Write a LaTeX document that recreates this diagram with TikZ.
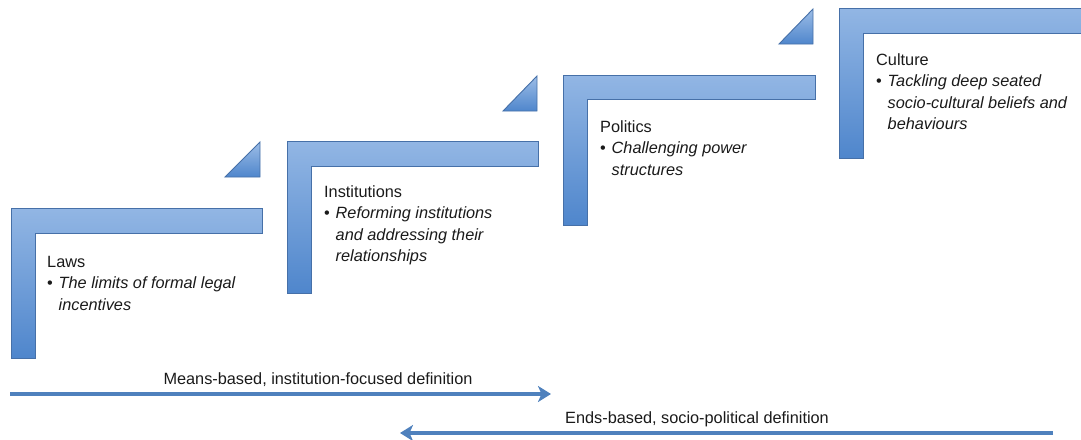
\documentclass[tikz,border=0pt]{standalone}
\usepackage{fontspec}
\setmainfont{Liberation Sans}
\usetikzlibrary{arrows.meta}
\definecolor{stepLight}{HTML}{92B6E4}
\definecolor{stepDark}{HTML}{4F86CC}
\definecolor{stepEdge}{HTML}{4670A8}
\definecolor{arrowBlue}{HTML}{4F81BD}
\definecolor{txtCol}{HTML}{1A1A1A}
\tikzset{
  stepshape/.style={draw=stepEdge, line width=0.9pt, top color=stepLight, bottom color=stepDark},
  tri/.style={draw=stepEdge, line width=0.9pt, top color=stepLight!90, bottom color=stepDark},
  steptxt/.style={anchor=north west, inner sep=0pt, align=left, text=txtCol,
    font=\fontsize{16.3}{21.5}\selectfont},
  deflabel/.style={inner sep=0pt, text=txtCol, font=\fontsize{16.3}{19}\selectfont},
  defarrow/.style={draw=arrowBlue, line width=3.4pt, -{Stealth[length=13pt,width=16pt,inset=3.5pt]}}
}
\newcommand{\bul}{\makebox[11.5pt][l]{\textbullet}}
\newcommand{\ind}{\hspace*{11.5pt}}
\begin{document}
\begin{tikzpicture}[x=1pt,y=-1pt]
\useasboundingbox (0,0) rectangle (1081,439);
% steps
\path[stepshape] (11,208) -- (262,208) -- (262,233) -- (35,233) -- (35,358) -- (11,358) -- cycle;
\path[stepshape] (287,141) -- (538,141) -- (538,166) -- (311,166) -- (311,293) -- (287,293) -- cycle;
\path[stepshape] (563,75) -- (815,75) -- (815,99) -- (587,99) -- (587,225) -- (563,225) -- cycle;
\path[stepshape] (839,8) -- (1085,8) -- (1085,33) -- (863,33) -- (863,158) -- (839,158) -- cycle;
% triangles
\path[tri] (225,177) -- (260,177) -- (260,142) -- cycle;
\path[tri] (503,111) -- (537,111) -- (537,76) -- cycle;
\path[tri] (779,44) -- (813,44) -- (813,9) -- cycle;
% texts
\node[steptxt] (laws) at (47,256) {Laws\\\bul\textit{The limits of formal legal}\\\ind\textit{incentives}};
\node[steptxt] (inst) at (324,185) {Institutions\\\bul\textit{Reforming institutions}\\\ind\textit{and addressing their}\\\ind\textit{relationships}};
\node[steptxt] (pol) at (600,120) {Politics\\\bul\textit{Challenging power}\\\ind\textit{structures}};
\node[steptxt] (cult) at (876,53) {Culture\\\bul\textit{Tackling deep seated}\\\ind\textit{socio-cultural beliefs and}\\\ind\textit{behaviours}};
% arrows
\coordinate (m1) at (10,394);
\coordinate (m2) at (551,394);
\coordinate (e1) at (1053,433);
\coordinate (e2) at (400,433);
\draw[defarrow] (m1) -- (m2);
\draw[defarrow] (e1) -- (e2);
\node[deflabel] (mlab) at (318,380) {Means-based, institution-focused definition};
\node[deflabel] (elab) at (697,419) {Ends-based, socio-political definition};
\end{tikzpicture}
\end{document}
